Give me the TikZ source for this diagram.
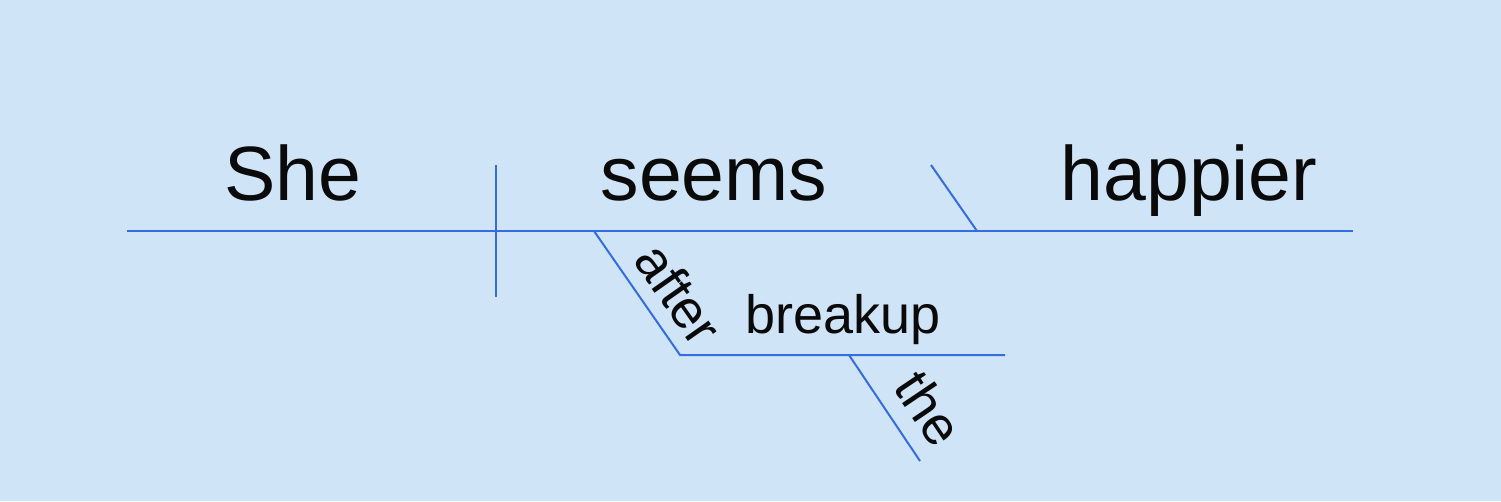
\documentclass[tikz,border=0pt]{standalone}
\usepackage{fontspec}
\setmainfont{Liberation Sans}
\definecolor{bgc}{RGB}{208,228,248}
\definecolor{lnc}{RGB}{52,108,226}
\definecolor{txc}{RGB}{10,10,10}
\begin{document}
\begin{tikzpicture}[x=1pt,y=-1pt,
  diag/.style={draw=lnc,line width=2pt},
  bigword/.style={font=\fontsize{77}{80}\selectfont,text=txc,inner sep=0pt,anchor=base},
  smallword/.style={font=\fontsize{54}{58}\selectfont,text=txc,inner sep=0pt}]
\fill[bgc] (0,0) rectangle (1501,501);
\useasboundingbox (0,0) rectangle (1501,501);
% coordinates
\coordinate (bl) at (127,231);
\coordinate (br) at (1353,231);
\coordinate (vt) at (496,165);
\coordinate (vb) at (496,297);
\coordinate (pt) at (931,165);
\coordinate (pb) at (977,231);
\coordinate (at) at (594,231);
\coordinate (ab) at (680,355);
\coordinate (br2) at (1005,355);
\coordinate (tt) at (849,355);
\coordinate (tb) at (920,461);
\draw[diag] (bl) -- (br);
\draw[diag] (vt) -- (vb);
\draw[diag] (pt) -- (pb);
\draw[diag] (at) -- (ab) -- (br2);
\draw[diag] (tt) -- (tb);
% words
\node[bigword] (she) at (293,200) {She};
\node[bigword] (seems) at (714,200) {seems};
\node[bigword] (happier) at (1189,200) {happier};
\node[smallword,anchor=base] (breakup) at (843,333) {breakup};
\node[smallword,rotate=-55] (after) at (679,294) {after};
\node[smallword,rotate=-56] (the) at (929,408) {the};
\end{tikzpicture}
\end{document}
